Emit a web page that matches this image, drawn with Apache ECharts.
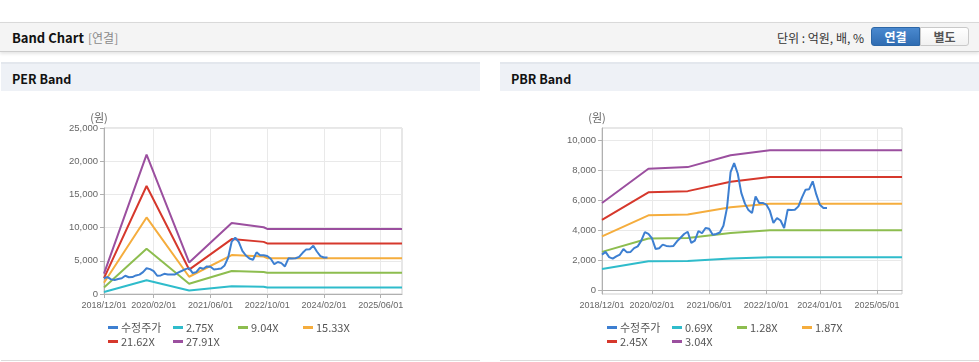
<!DOCTYPE html>
<html><head><meta charset="utf-8">
<script src="https://cdn.jsdelivr.net/npm/echarts@6/dist/echarts.min.js"></script>
<style>
html,body{margin:0;padding:0;background:#fff;width:979px;height:362px;overflow:hidden;font-family:"Noto Sans CJK KR","Liberation Sans",sans-serif;}
#top{position:absolute;left:0;top:22px;width:979px;height:28px;background:#f4f4f4;border-top:1px solid #d9d9d9;border-bottom:1px solid #cdcdcd;box-shadow:0 2px 3px rgba(0,0,0,0.10);}
#top .title{position:absolute;left:12px;top:0;line-height:29px;font-size:13px;font-weight:bold;color:#111;}
#top .sub{position:absolute;left:88px;top:0;line-height:30px;font-size:12px;color:#8a8a8a;}
#top .unit{position:absolute;right:115px;top:0;line-height:29px;font-size:12px;color:#333;}
.btn{position:absolute;top:4px;width:47px;height:17px;line-height:17px;text-align:center;font-size:12px;font-weight:bold;}
#b1{left:871px;background:linear-gradient(#4a89cf,#2f6cb2);border:1px solid #2c66a6;color:#fff;border-radius:3px 0 0 3px;}
#b2{left:920px;background:linear-gradient(#ffffff,#f1f1f1);border:1px solid #c9c9c9;color:#555;border-radius:0 3px 3px 0;}
.panel{position:absolute;top:62px;height:298px;border-bottom:1px solid #dcdcdc;}
.phead{position:absolute;left:0;top:0;right:0;height:27px;background:#eef1f6;border-top:2px solid #e3e7ed;}
.phead span{position:absolute;left:11px;top:0;line-height:30px;font-size:12.5px;font-weight:bold;color:#111;}
#c{position:absolute;left:0;top:0;width:979px;height:362px;}
</style></head>
<body>
<div id="top"><span class="title">Band Chart</span><span class="sub">[연결]</span><span class="unit">단위 : 억원, 배, %</span><div class="btn" id="b1">연결</div><div class="btn" id="b2">별도</div></div>
<div class="panel" style="left:1px;width:479px;"><div class="phead"><span>PER Band</span></div></div>
<div class="panel" style="left:500px;width:479px;"><div class="phead"><span>PBR Band</span></div></div>
<div id="c"></div>
<script>
// monthly categories 2018/12/01 .. 2025/12/01
const months = [];
for (let y = 2018, m = 12; y < 2025 || (y === 2025 && m <= 12); ) {
  months.push(y + '/' + String(m).padStart(2, '0') + '/01');
  m++; if (m > 12) { m = 1; y++; }
}
const perTickLabels = ['2018/12/01','2020/02/01','2021/06/01','2022/10/01','2024/02/01','2025/06/01'];
const pbrTickLabels = ['2018/12/01','2020/02/01','2021/06/01','2022/10/01','2024/01/01','2025/05/01'];
const pbrYTicks = [0, 2000, 4000, 6000, 8000, 10000];

// 수정주가, monthly from 2018/12
const price = [2370,2550,2200,2100,2250,2370,2750,2520,2550,2800,
               2920,3300,3880,3750,3450,2750,2800,3040,2950,2920,
               2950,3260,3500,3750,3900,3150,3300,3950,3800,4150,
               4100,3700,3750,3850,4300,5500,7900,8500,7800,6500,
               5800,5350,5150,6270,5830,5830,5720,5300,4490,4820,
               4650,4150,5380,5350,5380,5600,6200,6720,6750,7280,
               6400,5710,5490,5490];

// PER band breakpoints
const perNames = ['수정주가','2.75X','9.04X','15.33X','21.62X','27.91X'];
const perBandDates = ['2018/12/01','2019/12/01','2020/12/01','2021/12/01','2022/09/01','2022/10/01','2025/12/01'];
const per275  = [300, 2070, 520, 1150, 1100, 970, 970];
const per904  = [990, 6800, 1540, 3470, 3300, 3200, 3200];
const per1533 = [1690, 11530, 2600, 5870, 5650, 5400, 5400];
const per2162 = [2380, 16260, 3680, 8270, 7850, 7620, 7620];
const per2791 = [3070, 21000, 4750, 10700, 10050, 9800, 9800];

// PBR band breakpoints
const pbrNames = ['수정주가','0.69X','1.28X','1.87X','2.45X','3.04X'];
const pbrBandDates = ['2018/12/01','2020/01/01','2020/12/01','2021/12/01','2022/11/01','2025/12/01'];
const pbr069 = [1400, 1920, 1940, 2100, 2200, 2200];
const pbr128 = [2550, 3450, 3480, 3820, 4000, 4000];
const pbr187 = [3590, 5000, 5060, 5540, 5770, 5770];
const pbr245 = [4700, 6540, 6620, 7250, 7560, 7560];
const pbr304 = [5830, 8120, 8230, 9030, 9360, 9360];

const C = {price:'#3d7fd1', cyan:'#2fbccb', green:'#8dbd4f', orange:'#f5ad3d', red:'#d6382c', purple:'#9b4f9f'};

function band(name, dates, vals, color, idx) {
  return {type:'line', name, xAxisIndex:idx, yAxisIndex:idx,
    data: dates.map((d, i) => [d, vals[i]]),
    symbol:'none', showSymbol:false, lineStyle:{width:2, color}, itemStyle:{color}, z:2};
}
function priceSeries(idx) {
  return {type:'line', name:'수정주가', xAxisIndex:idx, yAxisIndex:idx, data: price,
    symbol:'none', showSymbol:false, lineStyle:{width:2, color:C.price}, itemStyle:{color:C.price}, z:5};
}
function xAx(gi, labels) {
  const f = (i, v) => labels.indexOf(v) >= 0;
  return {type:'category', gridIndex:gi, data:months, boundaryGap:false,
    axisLine:{show:true, lineStyle:{color:'#b0b0b0'}},
    axisTick:{show:true, interval:f, length:4, lineStyle:{color:'#b0b0b0'}},
    axisLabel:{interval:f, color:'#666', fontSize:9, fontFamily:'Liberation Sans', margin:7},
    splitLine:{show:true, interval:f, lineStyle:{color:'#e9e9e9'}}};
}
const yName = {name:'(원)', nameLocation:'end', nameGap:5,
  nameTextStyle:{color:'#666', fontSize:11, fontFamily:'Noto Sans CJK KR', padding:[0,10,0,0]}};

// one legend per item, laid out in a 4-column grid
function legendsFor(names, x0) {
  const colStep = 65, rowStep = 14, top0 = 322;
  return names.map((n, i) => ({
    left: x0 + (i % 4) * colStep, top: top0 + Math.floor(i / 4) * rowStep,
    data:[n], icon:'rect', itemWidth:10, itemHeight:3, padding:0, selectedMode:false,
    textStyle:{fontSize:11, color:'#555', fontFamily:'Noto Sans CJK KR', padding:[0,0,0,-2]}
  }));
}

const option = {
  backgroundColor:'transparent',
  animation:false,
  grid:[
    {left:104, top:128, width:298, height:166, show:true, borderColor:'#cfcfcf', borderWidth:1, backgroundColor:'transparent'},
    {left:602, top:128, width:300, height:166, show:true, borderColor:'#cfcfcf', borderWidth:1, backgroundColor:'transparent'}
  ],
  xAxis:[xAx(0, perTickLabels), xAx(1, pbrTickLabels)],
  yAxis:[
    Object.assign({type:'value', gridIndex:0, min:0, max:25000, interval:5000,
      axisLine:{show:true, lineStyle:{color:'#b0b0b0'}},
      axisTick:{show:true, length:4, lineStyle:{color:'#b0b0b0'}},
      axisLabel:{color:'#666', fontSize:9.5, fontFamily:'Liberation Sans', margin:6},
      splitLine:{show:true, lineStyle:{color:'#e9e9e9'}}}, yName),
    Object.assign({type:'value', gridIndex:1, min:-270, max:10850,
      axisLine:{show:true, lineStyle:{color:'#b0b0b0'}},
      axisTick:{show:true, length:4, customValues:pbrYTicks, lineStyle:{color:'#b0b0b0'}},
      axisLabel:{customValues:pbrYTicks, color:'#666', fontSize:9.5, fontFamily:'Liberation Sans', margin:6},
      splitLine:{show:true, lineStyle:{color:'#e9e9e9'}}}, yName)
  ],
  legend: legendsFor(perNames, 108).concat(legendsFor(pbrNames, 607)),
  series:[
    band('2.75X', perBandDates, per275, C.cyan, 0),
    band('9.04X', perBandDates, per904, C.green, 0),
    band('15.33X', perBandDates, per1533, C.orange, 0),
    band('21.62X', perBandDates, per2162, C.red, 0),
    band('27.91X', perBandDates, per2791, C.purple, 0),
    priceSeries(0),
    band('0.69X', pbrBandDates, pbr069, C.cyan, 1),
    band('1.28X', pbrBandDates, pbr128, C.green, 1),
    band('1.87X', pbrBandDates, pbr187, C.orange, 1),
    band('2.45X', pbrBandDates, pbr245, C.red, 1),
    band('3.04X', pbrBandDates, pbr304, C.purple, 1),
    priceSeries(1)
  ]
};
const chart = echarts.init(document.getElementById('c'), null, {renderer:'canvas', width:979, height:362});
chart.setOption(option);
</script>
</body></html>
